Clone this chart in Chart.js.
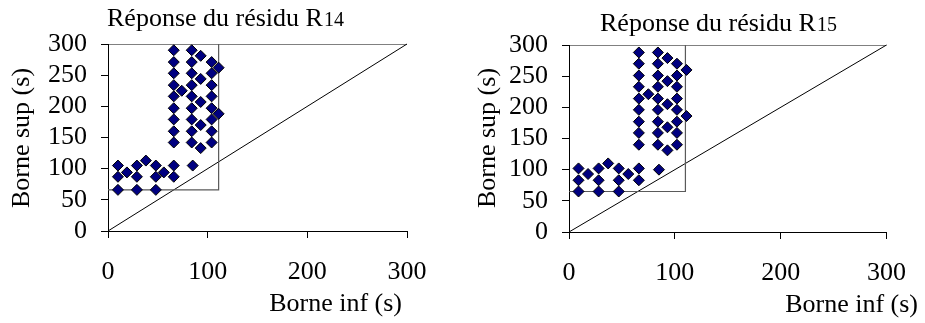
<!DOCTYPE html>
<html>
<head>
<meta charset="utf-8">
<script src="https://cdn.jsdelivr.net/npm/chart.js@4"></script>
<style>
  body { margin: 0; background: #fff; }
  .row { display: flex; width: 925px; height: 323px; }
  canvas { display: block; }
</style>
</head>
<body>
<div class="row">
  <canvas id="chartR14" width="462" height="323" style="width:462px;height:323px"></canvas>
  <canvas id="chartR15" width="463" height="323" style="width:463px;height:323px"></canvas>
</div>
<script>
// ========================
// Daten
// ========================
const axisTicks = [0, 50, 100, 150, 200, 250, 300];

// Résidu R14 : borne inf / borne sup (s)
const r14Inf = [10, 10, 10, 19, 29, 29, 29, 38, 48, 48, 48, 56, 66, 66, 85,
  66, 66, 66, 66, 66, 66, 66, 66, 66,
  84, 84, 84, 84, 84, 84, 84, 84, 84,
  93, 93, 93, 93, 93,
  104, 104, 104, 104, 104, 104, 104, 104,
  111, 111, 74];
const r14Sup = [105, 87, 66, 94, 105, 87, 66, 113, 105, 87, 66, 94, 105, 87, 105,
  290, 271, 253, 234, 216, 197, 179, 160, 142,
  290, 271, 253, 234, 216, 197, 179, 160, 142,
  281, 244, 207, 170, 133,
  271, 253, 234, 216, 197, 179, 160, 142,
  262, 188, 225];
const r14Box = { inf: 111, sup: 66 };

// Résidu R15
const r15Inf = [9, 9, 9, 18, 28, 28, 28, 37, 47, 47, 47, 56, 66, 66, 85,
  66, 66, 66, 66, 66, 66, 66, 66, 66,
  84, 84, 84, 84, 84, 84, 84, 84, 84,
  93, 93, 93, 93, 93,
  102, 102, 102, 102, 102, 102, 102, 102,
  111, 111, 75];
const r15Sup = [102, 83, 65, 93, 102, 83, 65, 110, 102, 83, 65, 93, 102, 83, 100,
  288, 270, 251, 233, 214, 196, 177, 159, 140,
  288, 270, 251, 233, 214, 196, 177, 159, 140,
  279, 242, 205, 168, 131,
  270, 251, 233, 214, 196, 177, 159, 140,
  260, 186, 221];
const r15Box = { inf: 110, sup: 65 };

const FONT = '"Liberation Serif", "Times New Roman", serif';

// ========================
// Texte (Titel, Achsentitel)
// ========================
const textPlugin = {
  id: 'texts',
  afterDraw(chart, args, opts) {
    const ctx = chart.ctx;
    ctx.save();
    ctx.fillStyle = '#000';
    ctx.textBaseline = 'alphabetic';
    ctx.textAlign = 'left';
    ctx.font = '26px ' + FONT;
    ctx.fillText(opts.title, opts.titleX, opts.titleY);
    const w = ctx.measureText(opts.title).width;
    ctx.font = '20px ' + FONT;
    ctx.fillText(opts.sub, opts.titleX + w + 1, opts.titleY);

    ctx.font = '26px ' + FONT;
    ctx.textAlign = 'right';
    ctx.fillText('Borne inf (s)', opts.xTitleRight, opts.xTitleY);

    ctx.translate(opts.yTitleX, opts.yTitleY);
    ctx.rotate(-Math.PI / 2);
    ctx.textAlign = 'center';
    ctx.textBaseline = 'middle';
    ctx.fillText('Borne sup (s)', 0, 0);
    ctx.restore();
  }
};

function makeChart(id, infs, sups, box, geo, texts) {
  const points = infs.map((x, i) => ({ x, y: sups[i] }));
  return new Chart(document.getElementById(id), {
    type: 'scatter',
    data: {
      datasets: [
        {
          data: points,
          pointStyle: 'rectRot',
          pointRadius: 5.5,
          pointHoverRadius: 5.5,
          backgroundColor: '#000080',
          borderColor: '#000',
          borderWidth: 1,
          clip: false
        },
        {
          data: [{ x: 0, y: box.sup }, { x: box.inf, y: box.sup }, { x: box.inf, y: 300 }],
          showLine: true,
          pointRadius: 0,
          borderColor: '#5a5a5a',
          borderWidth: 1.2,
          clip: false
        },
        {
          data: [{ x: 0, y: 0 }, { x: 300, y: 300 }],
          showLine: true,
          pointRadius: 0,
          borderColor: '#000',
          borderWidth: 1,
          clip: false
        }
      ]
    },
    options: {
      responsive: false,
      animation: false,
      events: [],
      layout: { padding: { left: 0, top: geo.top, right: geo.right, bottom: 0 } },
      plugins: {
        legend: { display: false },
        tooltip: { enabled: false },
        texts
      },
      scales: {
        x: {
          type: 'linear',
          min: 0,
          max: 300,
          afterFit: s => { s.height = geo.xHeight; },
          afterBuildTicks: s => { s.ticks = [0, 100, 200, 300].map(v => ({ value: v })); },
          border: { color: '#000', width: 1 },
          grid: { drawOnChartArea: false, drawTicks: true, tickLength: 7, tickColor: '#000' },
          ticks: { color: '#000', font: { family: FONT, size: 26 }, padding: 19, maxRotation: 0, autoSkip: false }
        },
        y: {
          type: 'linear',
          min: 0,
          max: 300,
          afterFit: s => { s.width = geo.yWidth; },
          afterBuildTicks: s => { s.ticks = axisTicks.map(v => ({ value: v })); },
          border: { color: '#000', width: 1 },
          grid: {
            drawOnChartArea: true,
            drawTicks: true,
            tickLength: 7,
            tickColor: '#000',
            color: c => (c.tick && c.tick.value === 300 ? '#808080' : 'rgba(0,0,0,0)')
          },
          ticks: { color: '#000', font: { family: FONT, size: 26 }, padding: 14, autoSkip: false }
        }
      }
    },
    plugins: [textPlugin]
  });
}

makeChart('chartR14', r14Inf, r14Sup, r14Box,
  { top: 44, right: 55, xHeight: 92, yWidth: 108 },
  { title: 'Réponse du résidu R', sub: '14', titleX: 107, titleY: 26,
    xTitleRight: 402, xTitleY: 311, yTitleX: 22, yTitleY: 138 });

makeChart('chartR15', r15Inf, r15Sup, r15Box,
  { top: 45, right: 32, xHeight: 91, yWidth: 107 },
  { title: 'Réponse du résidu R', sub: '15', titleX: 138, titleY: 31,
    xTitleRight: 456, xTitleY: 312, yTitleX: 26, yTitleY: 138 });
</script>
</body>
</html>
